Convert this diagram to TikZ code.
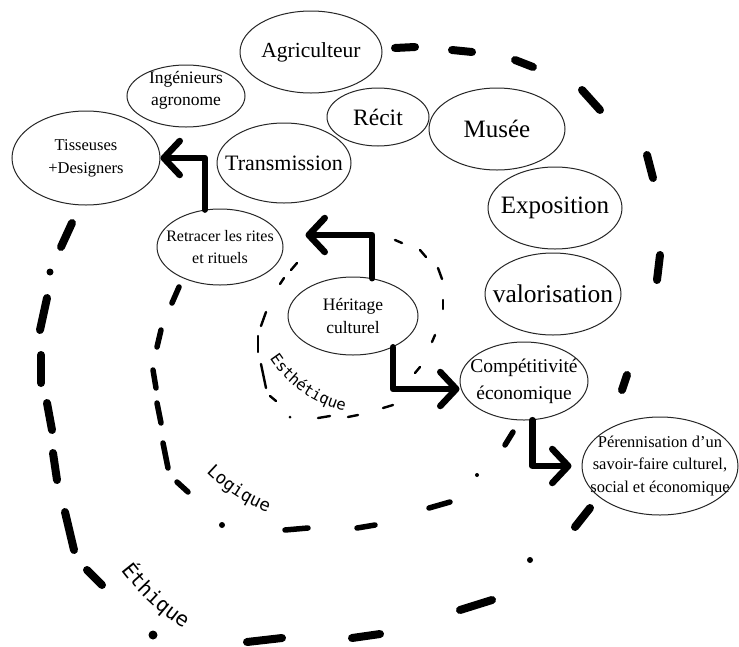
\documentclass[tikz,border=0pt]{standalone}
\usepackage{fontspec}
\setmainfont{Liberation Serif}
\newfontfamily\ringfont{DejaVu Sans Mono}
\usetikzlibrary{arrows.meta,shapes.geometric,decorations.text}

\begin{document}
\begin{tikzpicture}[x=1pt,y=-1pt,
  % a negative inner sep lets minimum width/height alone fix each outline,
  % so that long lines may run over the border
  oval/.style={ellipse, draw=black!85, line width=1pt, fill=white,
               inner sep=-60pt, align=center},
  fsz/.style 2 args={font=\fontsize{#1}{#2}\selectfont},
  arr/.style={line width=6.5pt, line cap=round, line join=round,
              -{Straight Barb[length=16pt,width=34pt,round]}},
  ethique/.style={line width=8pt, line cap=round},
  logique/.style={line width=5.5pt, line cap=round},
  esthe/.style={line width=2.4pt, line cap=round},
  ringtext/.style 2 args={decorate, decoration={text along path,
      text align=center, text={|\ringfont\fontsize{#1}{#1}\selectfont|#2}}}]

\fill[white] (0,0) rectangle (739,646);
\useasboundingbox (0,0) rectangle (739,646);

% outer ring (Ethique)
\foreach \xa/\ya/\xb/\yb in {395/48/415/47, 452/50/472/52, 515/60/533/67,
    582/90/600/110, 647/155/653/178, 660/255/657/280, 627/375/622/390,
    590/508/575/527, 492/600/460/610, 380/634/352/638, 282/638/247/642,
    102/585/87/570, 74/550/65/512, 57/480/53/453, 52/430/47/403,
    41/383/41/355, 40/330/47/298, 61/247/72/223}
  \draw[ethique] (\xa,\ya) -- (\xb,\yb);
\foreach \x/\y/\r in {530/560/3, 153/635/4.5, 50/272/3.5}
  \fill (\x,\y) circle (\r);

% middle ring (Logique)
\foreach \xa/\ya/\xb/\yb in {179/287/172/303, 161/330/157/347,
    153/370/156/388, 157/403/161/423, 163/443/168/468, 177/482/188/492,
    285/530/308/528, 357/528/375/525, 429/508/450/502, 513/432/505/445}
  \draw[logique] (\xa,\ya) -- (\xb,\yb);
\foreach \x/\y/\r in {222/525/3, 477/475/2}
  \fill (\x,\y) circle (\r);

% inner ring (Esthetique)
\foreach \xa/\ya/\xb/\yb in {297/263/291/270, 284/278/280/284,
    266/312/261/326, 258/336/258/352, 261/364/266/388, 270/396/276/401,
    318/418/330/416, 348/417/358/415, 383/408/393/405, 415/373/420/367,
    432/342/435/335, 443/300/443/309, 438/268/442/279, 420/250/426/257,
    395/240/402/243}
  \draw[esthe] (\xa,\ya) -- (\xb,\yb);
\fill (290,417) circle (1.5);

% ring names, set along arcs inside each ring
\path[ringtext={15.5}{Esthétique}] (372,292) ++(165:122) arc[start angle=165, end angle=85, radius=122];
\path[ringtext={17.5}{Logique}] (333.4,344) ++(150:181) arc[start angle=150, end angle=96, radius=181];
\path[ringtext={20.5}{Éthique}] (321.4,418) ++(155:252) arc[start angle=155, end angle=111, radius=252];

% actors and themes
\node[oval, fsz={21.5}{24}, minimum width=142, minimum height=82] (agri) at (311,52) {Agriculteur};
\node[oval, minimum width=118, minimum height=62,
      label={[fsz={17.5}{22}, align=center, yshift=6pt]center:Ingénieurs\\agronome}] (inge) at (186,96) {};
\node[oval, fsz={16.5}{23}, minimum width=148, minimum height=94] (tiss) at (86,158) {Tisseuses\\+Designers};
\node[oval, fsz={23.5}{26}, minimum width=102, minimum height=58] (recit) at (378,117) {Récit};
\node[oval, fsz={22}{24}, minimum width=134, minimum height=80] (trans) at (284,163) {Transmission};
\node[oval, fsz={25}{27}, minimum width=136, minimum height=82] (musee) at (497,129) {Musée};
\node[oval, fsz={25}{27}, minimum width=134, minimum height=82] (expo) at (555,208) {Exposition};
\node[oval, fsz={25.5}{27}, minimum width=136, minimum height=82] (valo) at (553,294) {valorisation};
\node[oval, fsz={16}{22}, minimum width=126, minimum height=76] (retr) at (220,247) {Retracer les rites\\et rituels};
\node[oval, fsz={17.5}{23}, minimum width=130, minimum height=78] (her) at (353,316) {Héritage\\culturel};
\node[oval, fsz={19.5}{27}, minimum width=128, minimum height=78] (comp) at (524,381) {Compétitivité\\économique};
\node[oval, fsz={16.5}{22.5}, minimum width=156, minimum height=98] (per) at (660,466) {Pérennisation d’un\\savoir-faire culturel,\\social et économique};

% elbow arrows
\draw[arr] (retr.112) |- (tiss.east);
\draw[arr] (her.63) |- ([xshift=22pt,yshift=12pt]retr.east);
\draw[arr] (her.-38) |- ([yshift=-8pt]comp.west);
\draw[arr] (comp.-78) |- ([xshift=-10pt]per.west);
\end{tikzpicture}
\end{document}
